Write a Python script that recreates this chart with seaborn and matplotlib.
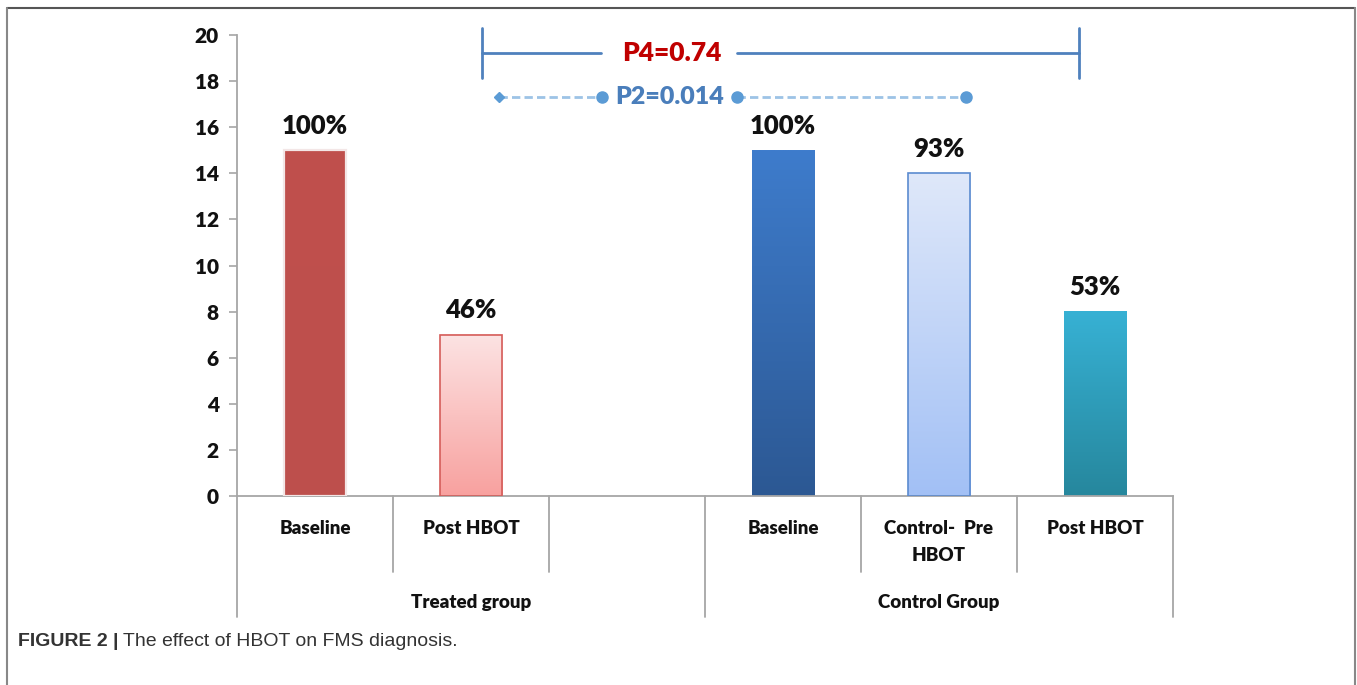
import numpy as np
import pandas as pd
import matplotlib
matplotlib.use("Agg")
import matplotlib.pyplot as plt
from matplotlib.colors import LinearSegmentedColormap
from matplotlib.lines import Line2D
import seaborn as sns

# ---- data -------------------------------------------------------------
slots = ["T_base", "T_post", "gap", "C_base", "C_pre", "C_post"]
bar_slots = ["T_base", "T_post", "C_base", "C_pre", "C_post"]
patients = [15, 7, 15, 14, 8]
pct_labels = ["100%", "46%", "100%", "93%", "53%"]
tick_labels = ["Baseline", "Post HBOT", "", "Baseline", "Control-  Pre\nHBOT", "Post HBOT"]
groups = ["Treated group", "Control Group"]
p4_text = "P4=0.74"
p2_text = "P2=0.014"
caption_bold = "FIGURE 2 |"
caption_text = " The effect of HBOT on FMS diagnosis."

# bar styling: (top colour, bottom colour, edge colour)
styles = {
    "T_base": ("#C0504D", "#BD4F4C", "#F3E6E6"),
    "T_post": ("#FCE3E3", "#F8A19F", "#D55D5A"),
    "C_base": ("#3E7CCC", "#2C5893", None),
    "C_pre":  ("#DFE8FA", "#A2C0F5", "#5B8BD0"),
    "C_post": ("#37B1D4", "#26879D", None),
}

df = pd.DataFrame({"slot": bar_slots, "patients": patients})

sns.set_theme(style="white")
plt.rcParams["font.family"] = ["Lato", "DejaVu Sans"]
W = "heavy"

fig = plt.figure(figsize=(13.57, 6.85), dpi=100)
ax = fig.add_axes([237 / 1357, 189 / 685, (1173 - 237) / 1357, 461 / 685])

sns.barplot(data=df, x="slot", y="patients", order=slots, hue="slot",
            palette={k: v[0] for k, v in styles.items()}, width=0.4,
            legend=False, ax=ax, zorder=2)

# vertical colour gradients laid over each bar
grad = np.linspace(0, 1, 256).reshape(-1, 1)
for p in ax.patches:
    w, h = p.get_width(), p.get_height()
    if not np.isfinite(h) or h <= 0:
        continue
    x0, y0 = p.get_x(), p.get_y()
    key = slots[int(round(x0 + w / 2))]
    top, bot, edge = styles[key]
    cmap = LinearSegmentedColormap.from_list(key, [bot, top])
    ax.imshow(grad, extent=(x0, x0 + w, y0, y0 + h), origin="lower",
              cmap=cmap, aspect="auto", zorder=2.5, interpolation="bilinear")
    p.set_facecolor("none")
    p.set_zorder(3)
    if edge is not None:
        p.set_edgecolor(edge)
        p.set_linewidth(1.6 if key == "T_base" else 1.2)
    else:
        p.set_linewidth(0)

# percentage labels above bars
for key, val, lab in zip(bar_slots, patients, pct_labels):
    ax.annotate(lab, (slots.index(key), val), xytext=(0, 9),
                textcoords="offset points", ha="center", va="bottom",
                fontsize=18.5, fontweight=W, color="#111111")

ax.set_xlim(-0.5, len(slots) - 0.5)
ax.set_ylim(0, 20)
ax.set_yticks(np.arange(0, 21, 2))
ax.set_ylabel("")
ax.set_xlabel("")

axis_gray = "#A6A6A6"
for s in ["top", "right"]:
    ax.spines[s].set_visible(False)
for s in ["left", "bottom"]:
    ax.spines[s].set_color(axis_gray)
    ax.spines[s].set_linewidth(1.3)

ax.tick_params(axis="y", which="major", left=True, length=6, width=1.2,
               color=axis_gray, pad=7, labelsize=15)
for t in ax.get_yticklabels():
    t.set_fontweight(W)
    t.set_color("#111111")

ax.set_xticks(range(len(slots)))
ax.set_xticklabels(tick_labels, fontsize=13.5, fontweight=W,
                   color="#111111", va="top", linespacing=1.75)
ax.tick_params(axis="x", length=0, pad=17)

# category divider lines below the axis
xt = ax.get_xaxis_transform()
for xb in [0.5, 1.5, 3.5, 4.5]:
    ax.plot([xb, xb], [0, -0.165], transform=xt, color=axis_gray, lw=1.3,
            clip_on=False)
for xb in [-0.5, 2.5, 5.5]:
    ax.plot([xb, xb], [0, -0.262], transform=xt, color=axis_gray, lw=1.3,
            clip_on=False)

ax.text(1.0, -0.232, groups[0], transform=xt, ha="center", va="center",
        fontsize=13.5, fontweight=W, color="#111111")
ax.text(4.0, -0.232, groups[1], transform=xt, ha="center", va="center",
        fontsize=13.5, fontweight=W, color="#111111")

# P4 bracket
br = "#4F81BD"
ax.plot([1.071, 1.833], [19.22, 19.22], color=br, lw=2, clip_on=False, zorder=4)
ax.plot([2.705, 4.897], [19.22, 19.22], color=br, lw=2, clip_on=False, zorder=4)
ax.plot([1.071, 1.071], [18.13, 20.3], color=br, lw=2, clip_on=False, zorder=4)
ax.plot([4.897, 4.897], [18.13, 20.3], color=br, lw=2, clip_on=False, zorder=4)
ax.text(2.288, 19.22, p4_text, ha="center", va="center", fontsize=19,
        fontweight=W, color="#C00000", clip_on=False)

# P2 dashed connector
dl = "#9DC3E6"
dm = "#5B9BD5"
ax.plot([1.179, 1.840], [17.31, 17.31], color=dl, lw=2, ls=(0, (3, 1.5)),
        clip_on=False, zorder=4)
ax.plot([2.705, 4.173], [17.31, 17.31], color=dl, lw=2, ls=(0, (3, 1.5)),
        clip_on=False, zorder=4)
ax.plot([1.179], [17.31], marker="D", ms=5, color=dm, clip_on=False, zorder=5)
for xm in [1.840, 2.705, 4.173]:
    ax.plot([xm], [17.31], marker="o", ms=8, color=dm, clip_on=False, zorder=5)
ax.text(2.273, 17.31, p2_text, ha="center", va="center", fontsize=18,
        fontweight=W, color="#4A7EBB", clip_on=False)

# frame around the figure panel
fig.add_artist(Line2D([7 / 1357, 1355 / 1357], [1 - 8 / 685, 1 - 8 / 685],
                      transform=fig.transFigure, color="#555555", lw=1.5))
fig.add_artist(Line2D([7 / 1357, 7 / 1357], [0, 1 - 8 / 685],
                      transform=fig.transFigure, color="#888888", lw=1.5))
fig.add_artist(Line2D([1355 / 1357, 1355 / 1357], [0, 1 - 8 / 685],
                      transform=fig.transFigure, color="#888888", lw=1.5))

# caption
cap = fig.text(18 / 1357, 43 / 685, caption_bold, ha="left", va="center",
               fontsize=14, fontweight="bold", color="#333333",
               family=["Liberation Sans", "DejaVu Sans"])
ax.annotate(caption_text, xy=(1, 0.5), xycoords=cap, ha="left", va="center",
            fontsize=14, color="#333333", annotation_clip=False,
            family=["Liberation Sans", "DejaVu Sans"])

fig.savefig("out.png", dpi=100)
